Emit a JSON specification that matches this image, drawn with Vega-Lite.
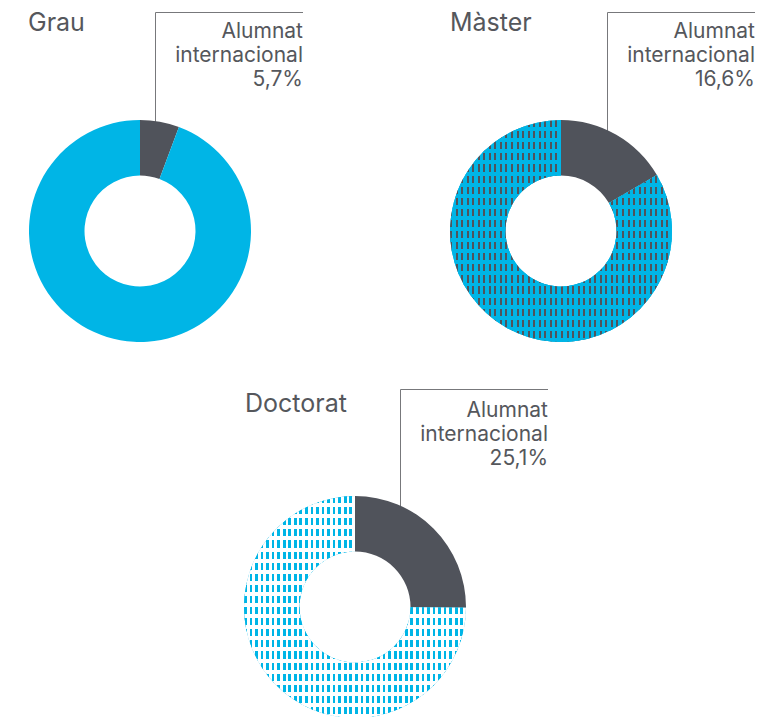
{
  "$schema": "https://vega.github.io/schema/vega-lite/v6.json",
  "padding": 0,
  "background": "white",
  "config": {"view": {"stroke": null}, "text": {"font": "Inter", "color": "#55575c"}},
  "datasets": {
    "alumnat": [
      {"nivell": "Grau", "grup": "Internacional", "pct": 5.7},
      {"nivell": "Grau", "grup": "Resta", "pct": 94.3},
      {"nivell": "Màster", "grup": "Internacional", "pct": 16.6},
      {"nivell": "Màster", "grup": "Resta", "pct": 83.4},
      {"nivell": "Doctorat", "grup": "Internacional", "pct": 25.1},
      {"nivell": "Doctorat", "grup": "Resta", "pct": 74.9}
    ]
  },
  "spacing": 20,
  "vconcat": [
    {
      "spacing": 81,
      "hconcat": [
        {
          "width": 340, "height": 345,
          "data": {"name": "alumnat"},
          "transform": [
            {"filter": "datum.nivell === 'Grau'"},
            {"stack": "pct", "groupby": ["nivell"], "sort": [{"field": "grup", "order": "ascending"}], "as": ["t0", "t1"]}
          ],
          "layer": [
            {
              "transform": [{"filter": "datum.grup === 'Internacional'"}],
              "mark": {"type": "rule", "color": "#77787b", "strokeWidth": 1},
              "encoding": {
                "x": {"datum": 15.5, "type": "quantitative", "scale": {"domain": [-140, 200], "nice": false, "zero": false}, "axis": null},
                "y": {"datum": -218.5, "type": "quantitative", "scale": {"domain": [-231, 114], "nice": false, "zero": false, "reverse": true}, "axis": null},
                "y2": {"datum": -90}
              }
            },
            {
              "transform": [{"filter": "datum.grup === 'Internacional'"}],
              "mark": {"type": "rule", "color": "#77787b", "strokeWidth": 1},
              "encoding": {
                "x": {"datum": 15.5, "type": "quantitative", "scale": {"domain": [-140, 200], "nice": false, "zero": false}, "axis": null},
                "x2": {"datum": 163},
                "y": {"datum": -218.5, "type": "quantitative", "scale": {"domain": [-231, 114], "nice": false, "zero": false, "reverse": true}, "axis": null}
              }
            },
            {
              "mark": {"type": "arc", "outerRadius": 111, "innerRadius": 55.5},
              "encoding": {
                "theta": {"field": "t0", "type": "quantitative", "stack": null, "scale": {"domain": [0, 100]}},
                "theta2": {"field": "t1"},
                "color": {"field": "grup", "type": "nominal", "scale": {"domain": ["Internacional", "Resta"], "range": ["#50535b", "#00b5e6"]}, "legend": null},
                "x": {"datum": 0, "type": "quantitative", "scale": {"domain": [-140, 200], "nice": false, "zero": false}, "axis": null},
                "y": {"datum": 0, "type": "quantitative", "scale": {"domain": [-231, 114], "nice": false, "zero": false, "reverse": true}, "axis": null}
              }
            },
            {
              "transform": [{"filter": "datum.grup === 'Internacional'"}],
              "mark": {"type": "text", "align": "left", "baseline": "alphabetic", "fontSize": 25},
              "encoding": {
                "text": {"field": "nivell", "type": "nominal"},
                "x": {"datum": -112, "type": "quantitative", "scale": {"domain": [-140, 200], "nice": false, "zero": false}, "axis": null},
                "y": {"datum": -200, "type": "quantitative", "scale": {"domain": [-231, 114], "nice": false, "zero": false, "reverse": true}, "axis": null}
              }
            },
            {
              "transform": [
                {"filter": "datum.grup === 'Internacional'"},
                {"calculate": "['Alumnat', 'internacional', replace(format(datum.pct, '.1f'), '.', ',') + '%']", "as": "etiqueta"}
              ],
              "mark": {"type": "text", "align": "right", "baseline": "alphabetic", "fontSize": 21, "lineHeight": 24},
              "encoding": {
                "text": {"field": "etiqueta", "type": "nominal"},
                "x": {"datum": 163, "type": "quantitative", "scale": {"domain": [-140, 200], "nice": false, "zero": false}, "axis": null},
                "y": {"datum": -193, "type": "quantitative", "scale": {"domain": [-231, 114], "nice": false, "zero": false, "reverse": true}, "axis": null}
              }
            }
          ]
        },
        {
          "width": 340, "height": 345,
          "data": {"name": "alumnat"},
          "transform": [
            {"filter": "datum.nivell === 'Màster'"},
            {"stack": "pct", "groupby": ["nivell"], "sort": [{"field": "grup", "order": "ascending"}], "as": ["t0", "t1"]}
          ],
          "layer": [
            {
              "transform": [{"filter": "datum.grup === 'Internacional'"}],
              "mark": {"type": "rule", "color": "#77787b", "strokeWidth": 1},
              "encoding": {
                "x": {"datum": 46.5, "type": "quantitative", "scale": {"domain": [-140, 200], "nice": false, "zero": false}, "axis": null},
                "y": {"datum": -218.5, "type": "quantitative", "scale": {"domain": [-231, 114], "nice": false, "zero": false, "reverse": true}, "axis": null},
                "y2": {"datum": -90}
              }
            },
            {
              "transform": [{"filter": "datum.grup === 'Internacional'"}],
              "mark": {"type": "rule", "color": "#77787b", "strokeWidth": 1},
              "encoding": {
                "x": {"datum": 46.5, "type": "quantitative", "scale": {"domain": [-140, 200], "nice": false, "zero": false}, "axis": null},
                "x2": {"datum": 194},
                "y": {"datum": -218.5, "type": "quantitative", "scale": {"domain": [-231, 114], "nice": false, "zero": false, "reverse": true}, "axis": null}
              }
            },
            {
              "mark": {"type": "arc", "outerRadius": 111, "innerRadius": 55.5},
              "encoding": {
                "theta": {"field": "t0", "type": "quantitative", "stack": null, "scale": {"domain": [0, 100]}},
                "theta2": {"field": "t1"},
                "color": {"field": "grup", "type": "nominal", "scale": {"domain": ["Internacional", "Resta"], "range": ["#50535b", "#00b5e6"]}, "legend": null},
                "x": {"datum": 0, "type": "quantitative", "scale": {"domain": [-140, 200], "nice": false, "zero": false}, "axis": null},
                "y": {"datum": 0, "type": "quantitative", "scale": {"domain": [-231, 114], "nice": false, "zero": false, "reverse": true}, "axis": null}
              }
            },
            {
              "transform": [{"filter": "datum.grup === 'Resta'"}],
              "mark": {"type": "arc", "outerRadius": 111, "innerRadius": 55.5,
                "fill": {"gradient": "linear", "x1": 0, "y1": 0, "x2": 1, "y2": 0, "stops": [
{"offset":0,"color":"#50535b"},{"offset":0.009,"color":"#50535b"},{"offset":0.009,"color":"#00b5e6"},{"offset":0.025,"color":"#00b5e6"},
{"offset":0.025,"color":"#50535b"},{"offset":0.034,"color":"#50535b"},{"offset":0.034,"color":"#00b5e6"},{"offset":0.05,"color":"#00b5e6"},
{"offset":0.05,"color":"#50535b"},{"offset":0.059,"color":"#50535b"},{"offset":0.059,"color":"#00b5e6"},{"offset":0.075,"color":"#00b5e6"},
{"offset":0.075,"color":"#50535b"},{"offset":0.084,"color":"#50535b"},{"offset":0.084,"color":"#00b5e6"},{"offset":0.1,"color":"#00b5e6"},
{"offset":0.1,"color":"#50535b"},{"offset":0.109,"color":"#50535b"},{"offset":0.109,"color":"#00b5e6"},{"offset":0.125,"color":"#00b5e6"},
{"offset":0.125,"color":"#50535b"},{"offset":0.134,"color":"#50535b"},{"offset":0.134,"color":"#00b5e6"},{"offset":0.15,"color":"#00b5e6"},
{"offset":0.15,"color":"#50535b"},{"offset":0.159,"color":"#50535b"},{"offset":0.159,"color":"#00b5e6"},{"offset":0.175,"color":"#00b5e6"},
{"offset":0.175,"color":"#50535b"},{"offset":0.184,"color":"#50535b"},{"offset":0.184,"color":"#00b5e6"},{"offset":0.2,"color":"#00b5e6"},
{"offset":0.2,"color":"#50535b"},{"offset":0.209,"color":"#50535b"},{"offset":0.209,"color":"#00b5e6"},{"offset":0.225,"color":"#00b5e6"},
{"offset":0.225,"color":"#50535b"},{"offset":0.234,"color":"#50535b"},{"offset":0.234,"color":"#00b5e6"},{"offset":0.25,"color":"#00b5e6"},
{"offset":0.25,"color":"#50535b"},{"offset":0.259,"color":"#50535b"},{"offset":0.259,"color":"#00b5e6"},{"offset":0.275,"color":"#00b5e6"},
{"offset":0.275,"color":"#50535b"},{"offset":0.284,"color":"#50535b"},{"offset":0.284,"color":"#00b5e6"},{"offset":0.3,"color":"#00b5e6"},
{"offset":0.3,"color":"#50535b"},{"offset":0.309,"color":"#50535b"},{"offset":0.309,"color":"#00b5e6"},{"offset":0.325,"color":"#00b5e6"},
{"offset":0.325,"color":"#50535b"},{"offset":0.334,"color":"#50535b"},{"offset":0.334,"color":"#00b5e6"},{"offset":0.35,"color":"#00b5e6"},
{"offset":0.35,"color":"#50535b"},{"offset":0.359,"color":"#50535b"},{"offset":0.359,"color":"#00b5e6"},{"offset":0.375,"color":"#00b5e6"},
{"offset":0.375,"color":"#50535b"},{"offset":0.384,"color":"#50535b"},{"offset":0.384,"color":"#00b5e6"},{"offset":0.4,"color":"#00b5e6"},
{"offset":0.4,"color":"#50535b"},{"offset":0.409,"color":"#50535b"},{"offset":0.409,"color":"#00b5e6"},{"offset":0.425,"color":"#00b5e6"},
{"offset":0.425,"color":"#50535b"},{"offset":0.434,"color":"#50535b"},{"offset":0.434,"color":"#00b5e6"},{"offset":0.45,"color":"#00b5e6"},
{"offset":0.45,"color":"#50535b"},{"offset":0.459,"color":"#50535b"},{"offset":0.459,"color":"#00b5e6"},{"offset":0.475,"color":"#00b5e6"},
{"offset":0.475,"color":"#50535b"},{"offset":0.484,"color":"#50535b"},{"offset":0.484,"color":"#00b5e6"},{"offset":0.5,"color":"#00b5e6"},
{"offset":0.5,"color":"#50535b"},{"offset":0.509,"color":"#50535b"},{"offset":0.509,"color":"#00b5e6"},{"offset":0.525,"color":"#00b5e6"},
{"offset":0.525,"color":"#50535b"},{"offset":0.534,"color":"#50535b"},{"offset":0.534,"color":"#00b5e6"},{"offset":0.55,"color":"#00b5e6"},
{"offset":0.55,"color":"#50535b"},{"offset":0.559,"color":"#50535b"},{"offset":0.559,"color":"#00b5e6"},{"offset":0.575,"color":"#00b5e6"},
{"offset":0.575,"color":"#50535b"},{"offset":0.584,"color":"#50535b"},{"offset":0.584,"color":"#00b5e6"},{"offset":0.6,"color":"#00b5e6"},
{"offset":0.6,"color":"#50535b"},{"offset":0.609,"color":"#50535b"},{"offset":0.609,"color":"#00b5e6"},{"offset":0.625,"color":"#00b5e6"},
{"offset":0.625,"color":"#50535b"},{"offset":0.634,"color":"#50535b"},{"offset":0.634,"color":"#00b5e6"},{"offset":0.65,"color":"#00b5e6"},
{"offset":0.65,"color":"#50535b"},{"offset":0.659,"color":"#50535b"},{"offset":0.659,"color":"#00b5e6"},{"offset":0.675,"color":"#00b5e6"},
{"offset":0.675,"color":"#50535b"},{"offset":0.684,"color":"#50535b"},{"offset":0.684,"color":"#00b5e6"},{"offset":0.7,"color":"#00b5e6"},
{"offset":0.7,"color":"#50535b"},{"offset":0.709,"color":"#50535b"},{"offset":0.709,"color":"#00b5e6"},{"offset":0.725,"color":"#00b5e6"},
{"offset":0.725,"color":"#50535b"},{"offset":0.734,"color":"#50535b"},{"offset":0.734,"color":"#00b5e6"},{"offset":0.75,"color":"#00b5e6"},
{"offset":0.75,"color":"#50535b"},{"offset":0.759,"color":"#50535b"},{"offset":0.759,"color":"#00b5e6"},{"offset":0.775,"color":"#00b5e6"},
{"offset":0.775,"color":"#50535b"},{"offset":0.784,"color":"#50535b"},{"offset":0.784,"color":"#00b5e6"},{"offset":0.8,"color":"#00b5e6"},
{"offset":0.8,"color":"#50535b"},{"offset":0.809,"color":"#50535b"},{"offset":0.809,"color":"#00b5e6"},{"offset":0.825,"color":"#00b5e6"},
{"offset":0.825,"color":"#50535b"},{"offset":0.834,"color":"#50535b"},{"offset":0.834,"color":"#00b5e6"},{"offset":0.85,"color":"#00b5e6"},
{"offset":0.85,"color":"#50535b"},{"offset":0.859,"color":"#50535b"},{"offset":0.859,"color":"#00b5e6"},{"offset":0.875,"color":"#00b5e6"},
{"offset":0.875,"color":"#50535b"},{"offset":0.884,"color":"#50535b"},{"offset":0.884,"color":"#00b5e6"},{"offset":0.9,"color":"#00b5e6"},
{"offset":0.9,"color":"#50535b"},{"offset":0.909,"color":"#50535b"},{"offset":0.909,"color":"#00b5e6"},{"offset":0.925,"color":"#00b5e6"},
{"offset":0.925,"color":"#50535b"},{"offset":0.934,"color":"#50535b"},{"offset":0.934,"color":"#00b5e6"},{"offset":0.95,"color":"#00b5e6"},
{"offset":0.95,"color":"#50535b"},{"offset":0.959,"color":"#50535b"},{"offset":0.959,"color":"#00b5e6"},{"offset":0.975,"color":"#00b5e6"},
{"offset":0.975,"color":"#50535b"},{"offset":0.984,"color":"#50535b"},{"offset":0.984,"color":"#00b5e6"},{"offset":1,"color":"#00b5e6"}
                ]}},
              "encoding": {
                "theta": {"field": "t0", "type": "quantitative", "stack": null, "scale": {"domain": [0, 100]}},
                "theta2": {"field": "t1"},
                "x": {"datum": 0, "type": "quantitative", "scale": {"domain": [-140, 200], "nice": false, "zero": false}, "axis": null},
                "y": {"datum": 0, "type": "quantitative", "scale": {"domain": [-231, 114], "nice": false, "zero": false, "reverse": true}, "axis": null}
              }
            },
            {
              "transform": [{"filter": "datum.grup === 'Resta'"}],
              "mark": {"type": "arc", "outerRadius": 111, "innerRadius": 55.5,
                "fill": {"gradient": "linear", "x1": 0, "y1": 0, "x2": 0, "y2": 1, "stops": [
{"offset":0,"color":"rgba(0,181,230,0)"},{"offset":0.032,"color":"rgba(0,181,230,0)"},{"offset":0.032,"color":"#00b5e6"},{"offset":0.05,"color":"#00b5e6"},
{"offset":0.05,"color":"rgba(0,181,230,0)"},{"offset":0.082,"color":"rgba(0,181,230,0)"},{"offset":0.082,"color":"#00b5e6"},{"offset":0.1,"color":"#00b5e6"},
{"offset":0.1,"color":"rgba(0,181,230,0)"},{"offset":0.132,"color":"rgba(0,181,230,0)"},{"offset":0.132,"color":"#00b5e6"},{"offset":0.15,"color":"#00b5e6"},
{"offset":0.15,"color":"rgba(0,181,230,0)"},{"offset":0.182,"color":"rgba(0,181,230,0)"},{"offset":0.182,"color":"#00b5e6"},{"offset":0.2,"color":"#00b5e6"},
{"offset":0.2,"color":"rgba(0,181,230,0)"},{"offset":0.232,"color":"rgba(0,181,230,0)"},{"offset":0.232,"color":"#00b5e6"},{"offset":0.25,"color":"#00b5e6"},
{"offset":0.25,"color":"rgba(0,181,230,0)"},{"offset":0.282,"color":"rgba(0,181,230,0)"},{"offset":0.282,"color":"#00b5e6"},{"offset":0.3,"color":"#00b5e6"},
{"offset":0.3,"color":"rgba(0,181,230,0)"},{"offset":0.332,"color":"rgba(0,181,230,0)"},{"offset":0.332,"color":"#00b5e6"},{"offset":0.35,"color":"#00b5e6"},
{"offset":0.35,"color":"rgba(0,181,230,0)"},{"offset":0.382,"color":"rgba(0,181,230,0)"},{"offset":0.382,"color":"#00b5e6"},{"offset":0.4,"color":"#00b5e6"},
{"offset":0.4,"color":"rgba(0,181,230,0)"},{"offset":0.432,"color":"rgba(0,181,230,0)"},{"offset":0.432,"color":"#00b5e6"},{"offset":0.45,"color":"#00b5e6"},
{"offset":0.45,"color":"rgba(0,181,230,0)"},{"offset":0.482,"color":"rgba(0,181,230,0)"},{"offset":0.482,"color":"#00b5e6"},{"offset":0.5,"color":"#00b5e6"},
{"offset":0.5,"color":"rgba(0,181,230,0)"},{"offset":0.532,"color":"rgba(0,181,230,0)"},{"offset":0.532,"color":"#00b5e6"},{"offset":0.55,"color":"#00b5e6"},
{"offset":0.55,"color":"rgba(0,181,230,0)"},{"offset":0.582,"color":"rgba(0,181,230,0)"},{"offset":0.582,"color":"#00b5e6"},{"offset":0.6,"color":"#00b5e6"},
{"offset":0.6,"color":"rgba(0,181,230,0)"},{"offset":0.632,"color":"rgba(0,181,230,0)"},{"offset":0.632,"color":"#00b5e6"},{"offset":0.65,"color":"#00b5e6"},
{"offset":0.65,"color":"rgba(0,181,230,0)"},{"offset":0.682,"color":"rgba(0,181,230,0)"},{"offset":0.682,"color":"#00b5e6"},{"offset":0.7,"color":"#00b5e6"},
{"offset":0.7,"color":"rgba(0,181,230,0)"},{"offset":0.732,"color":"rgba(0,181,230,0)"},{"offset":0.732,"color":"#00b5e6"},{"offset":0.75,"color":"#00b5e6"},
{"offset":0.75,"color":"rgba(0,181,230,0)"},{"offset":0.782,"color":"rgba(0,181,230,0)"},{"offset":0.782,"color":"#00b5e6"},{"offset":0.8,"color":"#00b5e6"},
{"offset":0.8,"color":"rgba(0,181,230,0)"},{"offset":0.832,"color":"rgba(0,181,230,0)"},{"offset":0.832,"color":"#00b5e6"},{"offset":0.85,"color":"#00b5e6"},
{"offset":0.85,"color":"rgba(0,181,230,0)"},{"offset":0.882,"color":"rgba(0,181,230,0)"},{"offset":0.882,"color":"#00b5e6"},{"offset":0.9,"color":"#00b5e6"},
{"offset":0.9,"color":"rgba(0,181,230,0)"},{"offset":0.932,"color":"rgba(0,181,230,0)"},{"offset":0.932,"color":"#00b5e6"},{"offset":0.95,"color":"#00b5e6"},
{"offset":0.95,"color":"rgba(0,181,230,0)"},{"offset":0.982,"color":"rgba(0,181,230,0)"},{"offset":0.982,"color":"#00b5e6"},{"offset":1,"color":"#00b5e6"}
                ]}},
              "encoding": {
                "theta": {"field": "t0", "type": "quantitative", "stack": null, "scale": {"domain": [0, 100]}},
                "theta2": {"field": "t1"},
                "x": {"datum": 0, "type": "quantitative", "scale": {"domain": [-140, 200], "nice": false, "zero": false}, "axis": null},
                "y": {"datum": 0, "type": "quantitative", "scale": {"domain": [-231, 114], "nice": false, "zero": false, "reverse": true}, "axis": null}
              }
            },
            {
              "transform": [{"filter": "datum.grup === 'Internacional'"}],
              "mark": {"type": "text", "align": "left", "baseline": "alphabetic", "fontSize": 25},
              "encoding": {
                "text": {"field": "nivell", "type": "nominal"},
                "x": {"datum": -111, "type": "quantitative", "scale": {"domain": [-140, 200], "nice": false, "zero": false}, "axis": null},
                "y": {"datum": -200, "type": "quantitative", "scale": {"domain": [-231, 114], "nice": false, "zero": false, "reverse": true}, "axis": null}
              }
            },
            {
              "transform": [
                {"filter": "datum.grup === 'Internacional'"},
                {"calculate": "['Alumnat', 'internacional', replace(format(datum.pct, '.1f'), '.', ',') + '%']", "as": "etiqueta"}
              ],
              "mark": {"type": "text", "align": "right", "baseline": "alphabetic", "fontSize": 21, "lineHeight": 24},
              "encoding": {
                "text": {"field": "etiqueta", "type": "nominal"},
                "x": {"datum": 194, "type": "quantitative", "scale": {"domain": [-140, 200], "nice": false, "zero": false}, "axis": null},
                "y": {"datum": -193, "type": "quantitative", "scale": {"domain": [-231, 114], "nice": false, "zero": false, "reverse": true}, "axis": null}
              }
            }
          ]
        }
      ]
    },
    {
      "width": 560, "height": 352,
      "data": {"name": "alumnat"},
      "transform": [
        {"filter": "datum.nivell === 'Doctorat'"},
        {"stack": "pct", "groupby": ["nivell"], "sort": [{"field": "grup", "order": "ascending"}], "as": ["t0", "t1"]}
      ],
      "layer": [
        {
          "transform": [{"filter": "datum.grup === 'Internacional'"}],
          "mark": {"type": "rule", "color": "#77787b", "strokeWidth": 1},
          "encoding": {
            "x": {"datum": 45.5, "type": "quantitative", "scale": {"domain": [-355, 205], "nice": false, "zero": false}, "axis": null},
            "y": {"datum": -217.5, "type": "quantitative", "scale": {"domain": [-242, 110], "nice": false, "zero": false, "reverse": true}, "axis": null},
            "y2": {"datum": -90}
          }
        },
        {
          "transform": [{"filter": "datum.grup === 'Internacional'"}],
          "mark": {"type": "rule", "color": "#77787b", "strokeWidth": 1},
          "encoding": {
            "x": {"datum": 45.5, "type": "quantitative", "scale": {"domain": [-355, 205], "nice": false, "zero": false}, "axis": null},
            "x2": {"datum": 193},
            "y": {"datum": -217.5, "type": "quantitative", "scale": {"domain": [-242, 110], "nice": false, "zero": false, "reverse": true}, "axis": null}
          }
        },
        {
          "mark": {"type": "arc", "outerRadius": 111, "innerRadius": 55.5},
          "encoding": {
            "theta": {"field": "t0", "type": "quantitative", "stack": null, "scale": {"domain": [0, 100]}},
            "theta2": {"field": "t1"},
            "color": {"field": "grup", "type": "nominal", "scale": {"domain": ["Internacional", "Resta"], "range": ["#50535b", "#00b5e6"]}, "legend": null},
            "x": {"datum": 0, "type": "quantitative", "scale": {"domain": [-355, 205], "nice": false, "zero": false}, "axis": null},
            "y": {"datum": 0, "type": "quantitative", "scale": {"domain": [-242, 110], "nice": false, "zero": false, "reverse": true}, "axis": null}
          }
        },
        {
          "transform": [{"filter": "datum.grup === 'Resta'"}],
          "mark": {"type": "arc", "outerRadius": 111, "innerRadius": 55.5,
            "fill": {"gradient": "linear", "x1": 0, "y1": 0, "x2": 1, "y2": 0, "stops": [
{"offset":0,"color":"#00b5e6"},{"offset":0.012,"color":"#00b5e6"},{"offset":0.012,"color":"#ffffff"},{"offset":0.025,"color":"#ffffff"},
{"offset":0.025,"color":"#00b5e6"},{"offset":0.037,"color":"#00b5e6"},{"offset":0.037,"color":"#ffffff"},{"offset":0.05,"color":"#ffffff"},
{"offset":0.05,"color":"#00b5e6"},{"offset":0.062,"color":"#00b5e6"},{"offset":0.062,"color":"#ffffff"},{"offset":0.075,"color":"#ffffff"},
{"offset":0.075,"color":"#00b5e6"},{"offset":0.087,"color":"#00b5e6"},{"offset":0.087,"color":"#ffffff"},{"offset":0.1,"color":"#ffffff"},
{"offset":0.1,"color":"#00b5e6"},{"offset":0.112,"color":"#00b5e6"},{"offset":0.112,"color":"#ffffff"},{"offset":0.125,"color":"#ffffff"},
{"offset":0.125,"color":"#00b5e6"},{"offset":0.137,"color":"#00b5e6"},{"offset":0.137,"color":"#ffffff"},{"offset":0.15,"color":"#ffffff"},
{"offset":0.15,"color":"#00b5e6"},{"offset":0.162,"color":"#00b5e6"},{"offset":0.162,"color":"#ffffff"},{"offset":0.175,"color":"#ffffff"},
{"offset":0.175,"color":"#00b5e6"},{"offset":0.187,"color":"#00b5e6"},{"offset":0.187,"color":"#ffffff"},{"offset":0.2,"color":"#ffffff"},
{"offset":0.2,"color":"#00b5e6"},{"offset":0.212,"color":"#00b5e6"},{"offset":0.212,"color":"#ffffff"},{"offset":0.225,"color":"#ffffff"},
{"offset":0.225,"color":"#00b5e6"},{"offset":0.237,"color":"#00b5e6"},{"offset":0.237,"color":"#ffffff"},{"offset":0.25,"color":"#ffffff"},
{"offset":0.25,"color":"#00b5e6"},{"offset":0.262,"color":"#00b5e6"},{"offset":0.262,"color":"#ffffff"},{"offset":0.275,"color":"#ffffff"},
{"offset":0.275,"color":"#00b5e6"},{"offset":0.287,"color":"#00b5e6"},{"offset":0.287,"color":"#ffffff"},{"offset":0.3,"color":"#ffffff"},
{"offset":0.3,"color":"#00b5e6"},{"offset":0.312,"color":"#00b5e6"},{"offset":0.312,"color":"#ffffff"},{"offset":0.325,"color":"#ffffff"},
{"offset":0.325,"color":"#00b5e6"},{"offset":0.337,"color":"#00b5e6"},{"offset":0.337,"color":"#ffffff"},{"offset":0.35,"color":"#ffffff"},
{"offset":0.35,"color":"#00b5e6"},{"offset":0.362,"color":"#00b5e6"},{"offset":0.362,"color":"#ffffff"},{"offset":0.375,"color":"#ffffff"},
{"offset":0.375,"color":"#00b5e6"},{"offset":0.387,"color":"#00b5e6"},{"offset":0.387,"color":"#ffffff"},{"offset":0.4,"color":"#ffffff"},
{"offset":0.4,"color":"#00b5e6"},{"offset":0.412,"color":"#00b5e6"},{"offset":0.412,"color":"#ffffff"},{"offset":0.425,"color":"#ffffff"},
{"offset":0.425,"color":"#00b5e6"},{"offset":0.437,"color":"#00b5e6"},{"offset":0.437,"color":"#ffffff"},{"offset":0.45,"color":"#ffffff"},
{"offset":0.45,"color":"#00b5e6"},{"offset":0.462,"color":"#00b5e6"},{"offset":0.462,"color":"#ffffff"},{"offset":0.475,"color":"#ffffff"},
{"offset":0.475,"color":"#00b5e6"},{"offset":0.487,"color":"#00b5e6"},{"offset":0.487,"color":"#ffffff"},{"offset":0.5,"color":"#ffffff"},
{"offset":0.5,"color":"#00b5e6"},{"offset":0.512,"color":"#00b5e6"},{"offset":0.512,"color":"#ffffff"},{"offset":0.525,"color":"#ffffff"},
{"offset":0.525,"color":"#00b5e6"},{"offset":0.537,"color":"#00b5e6"},{"offset":0.537,"color":"#ffffff"},{"offset":0.55,"color":"#ffffff"},
{"offset":0.55,"color":"#00b5e6"},{"offset":0.562,"color":"#00b5e6"},{"offset":0.562,"color":"#ffffff"},{"offset":0.575,"color":"#ffffff"},
{"offset":0.575,"color":"#00b5e6"},{"offset":0.587,"color":"#00b5e6"},{"offset":0.587,"color":"#ffffff"},{"offset":0.6,"color":"#ffffff"},
{"offset":0.6,"color":"#00b5e6"},{"offset":0.612,"color":"#00b5e6"},{"offset":0.612,"color":"#ffffff"},{"offset":0.625,"color":"#ffffff"},
{"offset":0.625,"color":"#00b5e6"},{"offset":0.637,"color":"#00b5e6"},{"offset":0.637,"color":"#ffffff"},{"offset":0.65,"color":"#ffffff"},
{"offset":0.65,"color":"#00b5e6"},{"offset":0.662,"color":"#00b5e6"},{"offset":0.662,"color":"#ffffff"},{"offset":0.675,"color":"#ffffff"},
{"offset":0.675,"color":"#00b5e6"},{"offset":0.687,"color":"#00b5e6"},{"offset":0.687,"color":"#ffffff"},{"offset":0.7,"color":"#ffffff"},
{"offset":0.7,"color":"#00b5e6"},{"offset":0.712,"color":"#00b5e6"},{"offset":0.712,"color":"#ffffff"},{"offset":0.725,"color":"#ffffff"},
{"offset":0.725,"color":"#00b5e6"},{"offset":0.737,"color":"#00b5e6"},{"offset":0.737,"color":"#ffffff"},{"offset":0.75,"color":"#ffffff"},
{"offset":0.75,"color":"#00b5e6"},{"offset":0.762,"color":"#00b5e6"},{"offset":0.762,"color":"#ffffff"},{"offset":0.775,"color":"#ffffff"},
{"offset":0.775,"color":"#00b5e6"},{"offset":0.787,"color":"#00b5e6"},{"offset":0.787,"color":"#ffffff"},{"offset":0.8,"color":"#ffffff"},
{"offset":0.8,"color":"#00b5e6"},{"offset":0.812,"color":"#00b5e6"},{"offset":0.812,"color":"#ffffff"},{"offset":0.825,"color":"#ffffff"},
{"offset":0.825,"color":"#00b5e6"},{"offset":0.837,"color":"#00b5e6"},{"offset":0.837,"color":"#ffffff"},{"offset":0.85,"color":"#ffffff"},
{"offset":0.85,"color":"#00b5e6"},{"offset":0.862,"color":"#00b5e6"},{"offset":0.862,"color":"#ffffff"},{"offset":0.875,"color":"#ffffff"},
{"offset":0.875,"color":"#00b5e6"},{"offset":0.887,"color":"#00b5e6"},{"offset":0.887,"color":"#ffffff"},{"offset":0.9,"color":"#ffffff"},
{"offset":0.9,"color":"#00b5e6"},{"offset":0.912,"color":"#00b5e6"},{"offset":0.912,"color":"#ffffff"},{"offset":0.925,"color":"#ffffff"},
{"offset":0.925,"color":"#00b5e6"},{"offset":0.937,"color":"#00b5e6"},{"offset":0.937,"color":"#ffffff"},{"offset":0.95,"color":"#ffffff"},
{"offset":0.95,"color":"#00b5e6"},{"offset":0.962,"color":"#00b5e6"},{"offset":0.962,"color":"#ffffff"},{"offset":0.975,"color":"#ffffff"},
{"offset":0.975,"color":"#00b5e6"},{"offset":0.987,"color":"#00b5e6"},{"offset":0.987,"color":"#ffffff"},{"offset":1,"color":"#ffffff"}
            ]}},
          "encoding": {
            "theta": {"field": "t0", "type": "quantitative", "stack": null, "scale": {"domain": [0, 100]}},
            "theta2": {"field": "t1"},
            "x": {"datum": 0, "type": "quantitative", "scale": {"domain": [-355, 205], "nice": false, "zero": false}, "axis": null},
            "y": {"datum": 0, "type": "quantitative", "scale": {"domain": [-242, 110], "nice": false, "zero": false, "reverse": true}, "axis": null}
          }
        },
        {
          "transform": [{"filter": "datum.grup === 'Resta'"}],
          "mark": {"type": "arc", "outerRadius": 111, "innerRadius": 55.5,
            "fill": {"gradient": "linear", "x1": 0, "y1": 0, "x2": 0, "y2": 1, "stops": [
{"offset":0,"color":"rgba(255,255,255,0)"},{"offset":0.032,"color":"rgba(255,255,255,0)"},{"offset":0.032,"color":"#ffffff"},{"offset":0.05,"color":"#ffffff"},
{"offset":0.05,"color":"rgba(255,255,255,0)"},{"offset":0.082,"color":"rgba(255,255,255,0)"},{"offset":0.082,"color":"#ffffff"},{"offset":0.1,"color":"#ffffff"},
{"offset":0.1,"color":"rgba(255,255,255,0)"},{"offset":0.132,"color":"rgba(255,255,255,0)"},{"offset":0.132,"color":"#ffffff"},{"offset":0.15,"color":"#ffffff"},
{"offset":0.15,"color":"rgba(255,255,255,0)"},{"offset":0.182,"color":"rgba(255,255,255,0)"},{"offset":0.182,"color":"#ffffff"},{"offset":0.2,"color":"#ffffff"},
{"offset":0.2,"color":"rgba(255,255,255,0)"},{"offset":0.232,"color":"rgba(255,255,255,0)"},{"offset":0.232,"color":"#ffffff"},{"offset":0.25,"color":"#ffffff"},
{"offset":0.25,"color":"rgba(255,255,255,0)"},{"offset":0.282,"color":"rgba(255,255,255,0)"},{"offset":0.282,"color":"#ffffff"},{"offset":0.3,"color":"#ffffff"},
{"offset":0.3,"color":"rgba(255,255,255,0)"},{"offset":0.332,"color":"rgba(255,255,255,0)"},{"offset":0.332,"color":"#ffffff"},{"offset":0.35,"color":"#ffffff"},
{"offset":0.35,"color":"rgba(255,255,255,0)"},{"offset":0.382,"color":"rgba(255,255,255,0)"},{"offset":0.382,"color":"#ffffff"},{"offset":0.4,"color":"#ffffff"},
{"offset":0.4,"color":"rgba(255,255,255,0)"},{"offset":0.432,"color":"rgba(255,255,255,0)"},{"offset":0.432,"color":"#ffffff"},{"offset":0.45,"color":"#ffffff"},
{"offset":0.45,"color":"rgba(255,255,255,0)"},{"offset":0.482,"color":"rgba(255,255,255,0)"},{"offset":0.482,"color":"#ffffff"},{"offset":0.5,"color":"#ffffff"},
{"offset":0.5,"color":"rgba(255,255,255,0)"},{"offset":0.532,"color":"rgba(255,255,255,0)"},{"offset":0.532,"color":"#ffffff"},{"offset":0.55,"color":"#ffffff"},
{"offset":0.55,"color":"rgba(255,255,255,0)"},{"offset":0.582,"color":"rgba(255,255,255,0)"},{"offset":0.582,"color":"#ffffff"},{"offset":0.6,"color":"#ffffff"},
{"offset":0.6,"color":"rgba(255,255,255,0)"},{"offset":0.632,"color":"rgba(255,255,255,0)"},{"offset":0.632,"color":"#ffffff"},{"offset":0.65,"color":"#ffffff"},
{"offset":0.65,"color":"rgba(255,255,255,0)"},{"offset":0.682,"color":"rgba(255,255,255,0)"},{"offset":0.682,"color":"#ffffff"},{"offset":0.7,"color":"#ffffff"},
{"offset":0.7,"color":"rgba(255,255,255,0)"},{"offset":0.732,"color":"rgba(255,255,255,0)"},{"offset":0.732,"color":"#ffffff"},{"offset":0.75,"color":"#ffffff"},
{"offset":0.75,"color":"rgba(255,255,255,0)"},{"offset":0.782,"color":"rgba(255,255,255,0)"},{"offset":0.782,"color":"#ffffff"},{"offset":0.8,"color":"#ffffff"},
{"offset":0.8,"color":"rgba(255,255,255,0)"},{"offset":0.832,"color":"rgba(255,255,255,0)"},{"offset":0.832,"color":"#ffffff"},{"offset":0.85,"color":"#ffffff"},
{"offset":0.85,"color":"rgba(255,255,255,0)"},{"offset":0.882,"color":"rgba(255,255,255,0)"},{"offset":0.882,"color":"#ffffff"},{"offset":0.9,"color":"#ffffff"},
{"offset":0.9,"color":"rgba(255,255,255,0)"},{"offset":0.932,"color":"rgba(255,255,255,0)"},{"offset":0.932,"color":"#ffffff"},{"offset":0.95,"color":"#ffffff"},
{"offset":0.95,"color":"rgba(255,255,255,0)"},{"offset":0.982,"color":"rgba(255,255,255,0)"},{"offset":0.982,"color":"#ffffff"},{"offset":1,"color":"#ffffff"}
            ]}},
          "encoding": {
            "theta": {"field": "t0", "type": "quantitative", "stack": null, "scale": {"domain": [0, 100]}},
            "theta2": {"field": "t1"},
            "x": {"datum": 0, "type": "quantitative", "scale": {"domain": [-355, 205], "nice": false, "zero": false}, "axis": null},
            "y": {"datum": 0, "type": "quantitative", "scale": {"domain": [-242, 110], "nice": false, "zero": false, "reverse": true}, "axis": null}
          }
        },
        {
          "transform": [{"filter": "datum.grup === 'Internacional'"}],
          "mark": {"type": "text", "align": "left", "baseline": "alphabetic", "fontSize": 25},
          "encoding": {
            "text": {"field": "nivell", "type": "nominal"},
            "x": {"datum": -110, "type": "quantitative", "scale": {"domain": [-355, 205], "nice": false, "zero": false}, "axis": null},
            "y": {"datum": -195, "type": "quantitative", "scale": {"domain": [-242, 110], "nice": false, "zero": false, "reverse": true}, "axis": null}
          }
        },
        {
          "transform": [
            {"filter": "datum.grup === 'Internacional'"},
            {"calculate": "['Alumnat', 'internacional', replace(format(datum.pct, '.1f'), '.', ',') + '%']", "as": "etiqueta"}
          ],
          "mark": {"type": "text", "align": "right", "baseline": "alphabetic", "fontSize": 21, "lineHeight": 24},
          "encoding": {
            "text": {"field": "etiqueta", "type": "nominal"},
            "x": {"datum": 193, "type": "quantitative", "scale": {"domain": [-355, 205], "nice": false, "zero": false}, "axis": null},
            "y": {"datum": -190, "type": "quantitative", "scale": {"domain": [-242, 110], "nice": false, "zero": false, "reverse": true}, "axis": null}
          }
        }
      ]
    }
  ]
}
